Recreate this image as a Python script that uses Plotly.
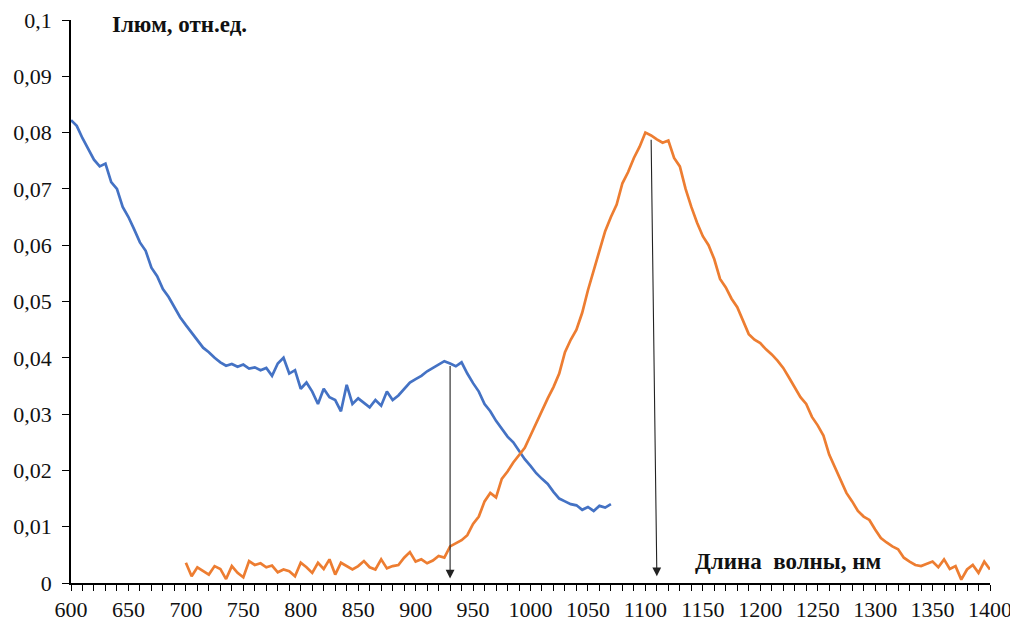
import plotly.graph_objects as go

# ---------------- data ----------------
blue_nm = list(range(600, 1071, 5))
blue_val = [
    0.0822, 0.0812, 0.0790, 0.0772, 0.0752, 0.0740, 0.0745, 0.0712, 0.0700, 0.0668,
    0.0650, 0.0628, 0.0605, 0.0590, 0.0560, 0.0545, 0.0522, 0.0508, 0.0490, 0.0472,
    0.0458, 0.0445, 0.0430, 0.0418, 0.0410, 0.0400, 0.0392, 0.0386, 0.0389, 0.0384,
    0.0388, 0.0381, 0.0383, 0.0378, 0.0382, 0.0368, 0.0390, 0.0400, 0.0372, 0.0378,
    0.0345, 0.0356, 0.0340, 0.0318, 0.0345, 0.0330, 0.0325, 0.0305, 0.0352, 0.0318,
    0.0328, 0.0320, 0.0312, 0.0325, 0.0315, 0.0340, 0.0325, 0.0333, 0.0345, 0.0356,
    0.0362, 0.0368, 0.0376, 0.0382, 0.0388, 0.0394, 0.0390, 0.0385, 0.0392, 0.0372,
    0.0355, 0.0340, 0.0318, 0.0305, 0.0288, 0.0275, 0.0260, 0.0250, 0.0235, 0.0220,
    0.0208, 0.0195, 0.0185, 0.0176, 0.0162, 0.0150, 0.0145, 0.0140, 0.0138, 0.0130,
    0.0135, 0.0128, 0.0137, 0.0134, 0.0140,
]

orange_nm = list(range(700, 1401, 5))
orange_val = [
    0.0036, 0.0012, 0.0028, 0.0022, 0.0015, 0.0030, 0.0025, 0.0007, 0.0030, 0.0018,
    0.0010, 0.0039, 0.0032, 0.0035, 0.0028, 0.0031, 0.0019, 0.0024, 0.0021, 0.0012,
    0.0036, 0.0028, 0.0018, 0.0036, 0.0025, 0.0042, 0.0015, 0.0036, 0.0030, 0.0024,
    0.0030, 0.0039, 0.0028, 0.0024, 0.0042, 0.0026, 0.0030, 0.0032, 0.0045, 0.0055,
    0.0038, 0.0042, 0.0035, 0.0040, 0.0048, 0.0045, 0.0065, 0.0070, 0.0076, 0.0085,
    0.0105, 0.0118, 0.0145, 0.0160, 0.0152, 0.0185, 0.0198, 0.0214, 0.0228, 0.0240,
    0.0262, 0.0285, 0.0308, 0.0328, 0.0348, 0.0372, 0.0410, 0.0432, 0.0450, 0.0480,
    0.0520, 0.0555, 0.0590, 0.0625, 0.0650, 0.0672, 0.0710, 0.0730, 0.0755, 0.0775,
    0.0800, 0.0795, 0.0788, 0.0782, 0.0786, 0.0755, 0.0740, 0.0700, 0.0668, 0.0640,
    0.0616, 0.0600, 0.0575, 0.0540, 0.0525, 0.0505, 0.0490, 0.0465, 0.0442, 0.0432,
    0.0426, 0.0415, 0.0406, 0.0395, 0.0382, 0.0365, 0.0348, 0.0330, 0.0318, 0.0295,
    0.0280, 0.0262, 0.0228, 0.0205, 0.0182, 0.0160, 0.0145, 0.0128, 0.0118, 0.0112,
    0.0095, 0.0080, 0.0072, 0.0065, 0.0060, 0.0045, 0.0038, 0.0032, 0.0030, 0.0034,
    0.0038, 0.0028, 0.0042, 0.0025, 0.0030, 0.0006, 0.0024, 0.0032, 0.0018, 0.0038,
    0.0024,
]

# arrows from the band maxima down to the wavelength axis
arrow_top_nm = [930, 1105]
arrow_top_val = [0.0388, 0.0790]
arrow_bottom_nm = [930, 1110]
arrow_bottom_val = [0.0008, 0.0012]

x_ticks = list(range(600, 1401, 50))
y_ticks = [0, 0.01, 0.02, 0.03, 0.04, 0.05, 0.06, 0.07, 0.08, 0.09, 0.1]
y_labels = ["0", "0,01", "0,02", "0,03", "0,04", "0,05", "0,06", "0,07", "0,08", "0,09", "0,1"]

y_title = "Ілюм, отн.ед."
x_title = "Длина  волны, нм"

FONT = "Liberation Serif"

fig = go.Figure()
fig.add_trace(go.Scatter(x=blue_nm, y=blue_val, mode="lines",
                         line=dict(color="#4472C4", width=2.7), showlegend=False))
fig.add_trace(go.Scatter(x=orange_nm, y=orange_val, mode="lines",
                         line=dict(color="#ED7D31", width=2.7), showlegend=False))

for xt, yt, xb, yb in zip(arrow_top_nm, arrow_top_val, arrow_bottom_nm, arrow_bottom_val):
    fig.add_annotation(x=xb, y=yb, ax=xt, ay=yt, xref="x", yref="y", axref="x", ayref="y",
                       text="", showarrow=True, arrowhead=2, arrowsize=1.6,
                       arrowwidth=1.1, arrowcolor="#222222")

fig.add_annotation(x=0.0424, y=0.992, xref="paper", yref="paper", xanchor="left",
                   yanchor="middle", text="<b>" + y_title + "</b>", showarrow=False,
                   font=dict(family=FONT, size=23, color="#111111"))
fig.add_annotation(x=0.677, y=0.0385, xref="paper", yref="paper", xanchor="left",
                   yanchor="middle", text="<b>" + x_title + "</b>", showarrow=False,
                   font=dict(family=FONT, size=23, color="#111111"))

fig.update_layout(
    width=1010, height=614,
    margin=dict(l=63, r=28, t=12, b=39),
    paper_bgcolor="white", plot_bgcolor="white",
    font=dict(family=FONT, size=22, color="#111111"),
    xaxis=dict(range=[600, 1400], tickvals=x_ticks, showgrid=False, zeroline=False,
               automargin=False, ticklabeloverflow="allow",
               showline=True, linecolor="black", linewidth=1.5,
               ticks="outside", ticklen=6, tickwidth=1.2, tickcolor="black",
               minor=dict(dtick=10, tick0=600, ticks="outside", ticklen=6,
                          tickwidth=1.2, tickcolor="black", showgrid=False),
               tickfont=dict(family=FONT, size=22)),
    yaxis=dict(range=[0, 0.1], tickvals=y_ticks, ticktext=y_labels, showgrid=False,
               automargin=False, ticklabeloverflow="allow",
               zeroline=False, showline=True, linecolor="black", linewidth=1.5,
               ticks="outside", ticklen=7, tickwidth=1.2, tickcolor="black",
               ticklabelstandoff=6,
               tickfont=dict(family=FONT, size=22)),
)

fig.write_html("out.html")
